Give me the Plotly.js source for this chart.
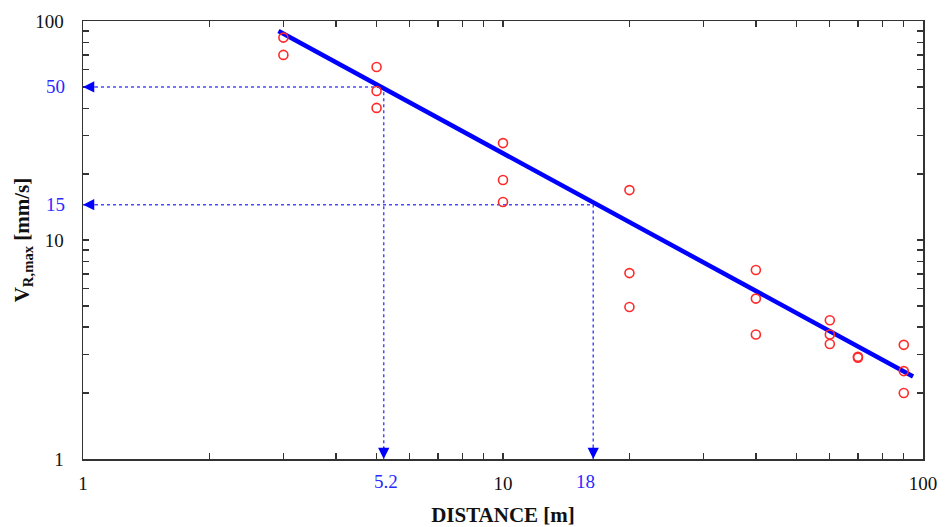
<!DOCTYPE html>
<html><head><meta charset="utf-8">
<script src="https://cdn.plot.ly/plotly-3.0.1.min.js"></script>
<style>html,body{margin:0;padding:0;background:#fff}#chart{width:945px;height:527px}</style>
</head><body><div id="chart"></div>
<script>
// Measured data (distance in m, peak velocity in mm/s)
const distance = [3, 3, 5, 5, 5, 10, 10, 10, 20, 20, 20, 40, 40, 40, 60, 60, 60, 70, 70, 90, 90, 90];
const velocity = [84, 70, 61.7, 47.9, 40.1, 27.7, 18.8, 14.9, 16.9, 7.06, 4.94, 7.3, 5.4, 3.7, 4.3, 3.7, 3.35, 2.93, 2.9, 3.32, 2.52, 2.0];
// Fitted line end points
const fitX = [2.92, 94.7];
const fitY = [90, 2.38];
// Guide (read-off) lines
const guideX = [5.2, 16.4];
const guideY = [50, 14.5];
const guideXLabels = ['5.2', '18'];
const guideYLabels = ['50', '15'];
// Axis ticks
const tickVals = [1, 2, 3, 4, 5, 6, 7, 8, 9, 10, 20, 30, 40, 50, 60, 70, 80, 90, 100];
const tickText = ['1', '', '', '', '', '', '', '', '', '10', '', '', '', '', '', '', '', '', '100'];

const BLUE = '#0000ff';
const GUIDE = '#4a4aff';
const LABELBLUE = '#2a2aff';
const SERIF = 'Liberation Serif, Times New Roman, serif';

const traces = [];
guideX.forEach((gx, i) => {
  traces.push({
    x: [tickVals[0], gx, gx],
    y: [guideY[i], guideY[i], tickVals[0]],
    mode: 'lines', type: 'scatter', hoverinfo: 'skip',
    line: {color: GUIDE, width: 1.5, dash: 'dot'}
  });
});
traces.push({
  x: fitX, y: fitY, mode: 'lines', type: 'scatter',
  line: {color: BLUE, width: 4.5}
});
traces.push({
  x: distance, y: velocity, mode: 'markers', type: 'scatter',
  marker: {symbol: 'circle-open', size: 9, color: '#ff2a2a', line: {width: 1.6, color: '#ff2a2a'}}
});

const annotations = [];
guideY.forEach((gy, i) => {
  annotations.push({
    x: Math.log10(tickVals[0]), y: Math.log10(gy), xref: 'x', yref: 'y',
    text: '', showarrow: true, ax: 13, ay: 0, arrowhead: 2, arrowsize: 1.5, arrowwidth: 1.5,
    arrowcolor: BLUE, standoff: 0
  });
  annotations.push({
    x: 0, xref: 'paper', xanchor: 'right', xshift: -16,
    y: Math.log10(gy), yref: 'y', yanchor: 'middle',
    text: guideYLabels[i], showarrow: false,
    font: {family: SERIF, size: 19, color: LABELBLUE}
  });
});
guideX.forEach((gx, i) => {
  annotations.push({
    x: Math.log10(gx), y: Math.log10(tickVals[0]), xref: 'x', yref: 'y',
    text: '', showarrow: true, ax: 0, ay: -13, arrowhead: 2, arrowsize: 1.5, arrowwidth: 1.5,
    arrowcolor: BLUE, standoff: 0
  });
  annotations.push({
    x: Math.log10(gx), xref: 'x', xanchor: 'center', xshift: i === 1 ? -8 : 2,
    y: 0, yref: 'paper', yanchor: 'top', yshift: -10,
    text: guideXLabels[i], showarrow: false,
    font: {family: SERIF, size: 19, color: LABELBLUE}
  });
});

const axisCommon = {
  type: 'log', range: [0, 2],
  tickmode: 'array', tickvals: tickVals, ticktext: tickText,
  ticks: 'inside', ticklen: 6, tickwidth: 1.3, tickcolor: '#333',
  showline: true, linecolor: '#333', linewidth: 1.5, mirror: 'ticks',
  showgrid: false, zeroline: false,
  tickfont: {family: SERIF, size: 19, color: '#111'}
};

const layout = {
  width: 945, height: 527,
  margin: {l: 83, r: 22, t: 21, b: 68},
  paper_bgcolor: '#fff', plot_bgcolor: '#fff',
  showlegend: false,
  xaxis: Object.assign({}, axisCommon, {
    ticklabelstandoff: 7,
    title: {text: '<b>DISTANCE [m]</b>', font: {family: SERIF, size: 21, color: '#111'}, standoff: 15}
  }),
  yaxis: Object.assign({}, axisCommon, {
    ticklabelstandoff: 14,
    title: {text: '<b>V<sub>R,max</sub> [mm/s]</b>', font: {family: SERIF, size: 21, color: '#111'}, standoff: 0}
  }),
  annotations: annotations
};

Plotly.newPlot('chart', traces, layout, {displayModeBar: false, staticPlot: true});
</script>
</body></html>
